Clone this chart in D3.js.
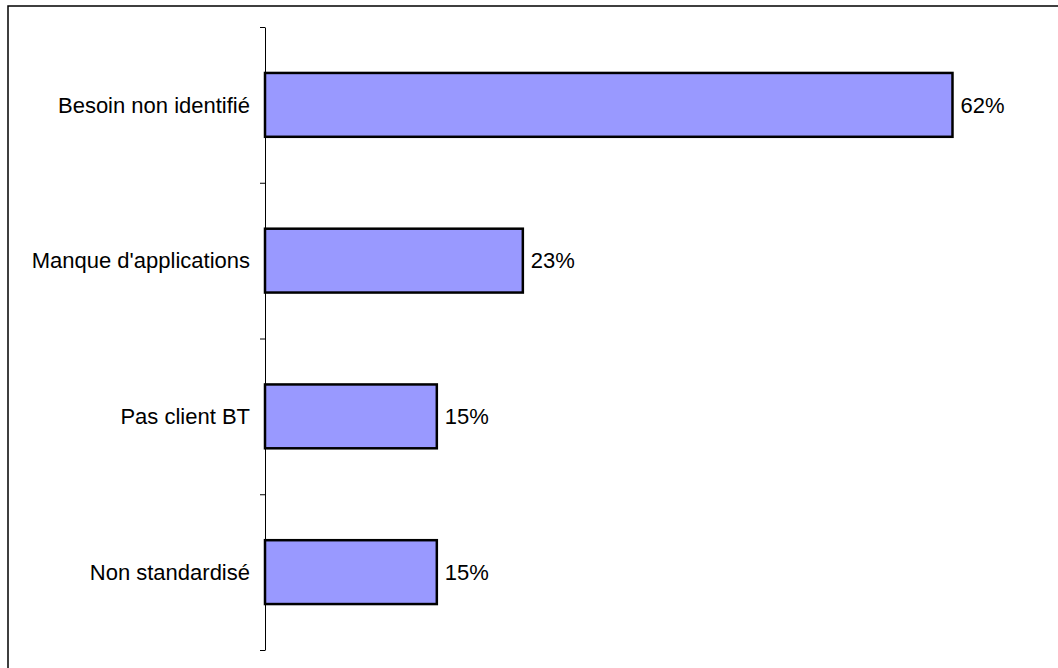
<!DOCTYPE html>
<html>
<head>
<meta charset="utf-8">
<script src="https://cdn.jsdelivr.net/npm/d3@7"></script>
<style>
  html, body { margin: 0; padding: 0; background: #fff; overflow: hidden; }
  text { font-family: "Liberation Sans", Arial, sans-serif; }
</style>
</head>
<body>
<div id="chart"></div>
<script>
// categories, top to bottom
const categories = ['Besoin non identifié', "Manque d'applications", 'Pas client BT', 'Non standardisé']
// shares of answers (8/13, 3/13, 2/13, 2/13)
const shares = [0.6154, 0.2308, 0.1538, 0.1538]

const width = 1058
const height = 668

const svg = d3.select('#chart')
    .append('svg')
    .attr('width', width)
    .attr('height', height)

// outer frame of the chart area, runs off the right and bottom edges
svg.append('rect')
    .attr('x', 8)
    .attr('y', 6)
    .attr('width', 1200)
    .attr('height', 800)
    .attr('fill', 'none')
    .attr('stroke', '#000')
    .attr('stroke-width', 1.5)

const plotTop = 27
const plotBottom = 650
const plotLeft = 265

const xScale = d3.scaleLinear()
    .domain([0, 0.7])
    .range([plotLeft, plotLeft + 782])

const yScale = d3.scaleBand()
    .domain(categories)
    .range([plotTop, plotBottom])
    .paddingInner(0.59)
    .paddingOuter(0.295)

// tick marks sit between the categories
const tickScale = d3.scaleLinear()
    .domain([0, categories.length])
    .range([plotTop, plotBottom])

const yAxis = svg.append('g')
    .attr('transform', `translate(${plotLeft}, 0)`)
    .call(d3.axisLeft(tickScale)
        .tickValues(d3.range(categories.length + 1))
        .tickSize(5)
        .tickSizeOuter(0)
        .tickFormat(''))

yAxis.selectAll('path, line')
    .attr('stroke', '#000')
    .attr('stroke-width', 1)

// category labels
svg.selectAll('.cat')
    .data(categories)
    .enter()
    .append('text')
    .attr('class', 'cat')
    .attr('x', plotLeft - 15)
    .attr('y', d => yScale(d) + yScale.bandwidth() / 2)
    .attr('dy', '0.35em')
    .attr('text-anchor', 'end')
    .attr('font-size', '22px')
    .attr('fill', '#000')
    .text(d => d)

// bars
svg.selectAll('.bar')
    .data(shares)
    .enter()
    .append('rect')
    .attr('class', 'bar')
    .attr('x', xScale(0))
    .attr('y', (d, i) => yScale(categories[i]))
    .attr('width', d => xScale(d) - xScale(0))
    .attr('height', yScale.bandwidth())
    .attr('fill', '#9999FF')
    .attr('stroke', '#000')
    .attr('stroke-width', 2.5)

// value labels
const fmt = d3.format('.0%')
svg.selectAll('.val')
    .data(shares)
    .enter()
    .append('text')
    .attr('class', 'val')
    .attr('x', d => xScale(d) + 8)
    .attr('y', (d, i) => yScale(categories[i]) + yScale.bandwidth() / 2)
    .attr('dy', '0.35em')
    .attr('font-size', '22px')
    .attr('fill', '#000')
    .text(d => fmt(d))
</script>
</body>
</html>
